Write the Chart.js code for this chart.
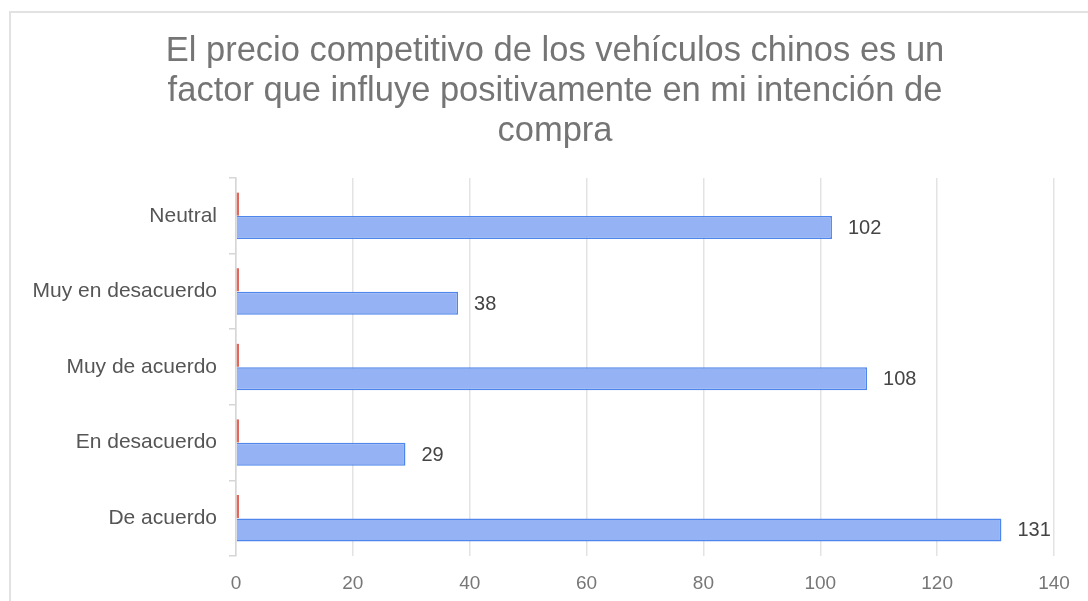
<!DOCTYPE html>
<html>
<head>
<meta charset="utf-8">
<script src="https://cdn.jsdelivr.net/npm/chart.js@4/dist/chart.umd.min.js"></script>
<style>
  html, body { margin: 0; padding: 0; background: #fff; overflow: hidden; }
  #wrap { position: relative; width: 1088px; height: 601px; }
  #frame {
    position: absolute; left: 9px; top: 11px; width: 1200px; height: 700px;
    border-top: 2px solid #e2e2e2; border-left: 2px solid #e2e2e2;
    pointer-events: none;
  }
</style>
</head>
<body>
<div id="wrap">
  <canvas id="precioChart" width="1088" height="601"></canvas>
  <div id="frame"></div>
</div>
<script>
const titleLines = [
    'El precio competitivo de los vehículos chinos es un',
    'factor que influye positivamente en mi intención de',
    'compra'
];
const categories = ['Neutral', 'Muy en desacuerdo', 'Muy de acuerdo', 'En desacuerdo', 'De acuerdo'];
const otherValues = [0, 0, 0, 0, 0];
const countValues = [102, 38, 108, 29, 131];
const xTicks = [0, 20, 40, 60, 80, 100, 120, 140];

const fontFamily = '"Liberation Sans", Arial, Helvetica, sans-serif';

// value labels to the right of the blue bars
const barValueLabels = {
    id: 'barValueLabels',
    afterDatasetsDraw(chart) {
        const ctx = chart.ctx;
        const meta = chart.getDatasetMeta(1);
        ctx.save();
        ctx.font = '20px ' + fontFamily;
        ctx.fillStyle = '#444444';
        ctx.textAlign = 'left';
        ctx.textBaseline = 'middle';
        meta.data.forEach((bar, i) => {
            ctx.fillText(String(countValues[i]), bar.x + 16, bar.y + 1);
        });
        ctx.restore();
    }
};

const ctx = document.getElementById('precioChart').getContext('2d');

new Chart(ctx, {
    type: 'bar',
    data: {
        labels: categories,
        datasets: [{
            label: 'Otro',
            data: otherValues,
            backgroundColor: '#e2685c',
            borderWidth: 0,
            minBarLength: 3,
            categoryPercentage: 0.62,
            barPercentage: 0.98
        }, {
            label: 'Respuestas',
            data: countValues,
            backgroundColor: '#95b3f4',
            borderColor: '#4f86ec',
            borderWidth: 1.5,
            categoryPercentage: 0.62,
            barPercentage: 0.98
        }]
    },
    options: {
        indexAxis: 'y',
        responsive: false,
        animation: false,
        layout: { padding: { left: 22, right: 0, top: 0, bottom: 4 } },
        plugins: {
            legend: { display: false },
            tooltip: { enabled: false },
            title: {
                display: true,
                text: titleLines,
                color: '#757575',
                font: { family: fontFamily, size: 34.5, weight: 'normal', lineHeight: 1.16 },
                padding: { top: 31, bottom: 27 }
            }
        },
        scales: {
            x: {
                min: 0,
                max: 140,
                afterBuildTicks: scale => { scale.ticks = xTicks.map(v => ({ value: v })); },
                afterFit: scale => { scale.height = 41; },
                grid: { color: '#e3e3e3', lineWidth: 1.5, drawTicks: false },
                border: { display: false },
                ticks: {
                    color: '#777777',
                    padding: 16,
                    font: { family: fontFamily, size: 19 }
                }
            },
            y: {
                afterFit: scale => { scale.width = 214; },
                grid: {
                    offset: true,
                    drawOnChartArea: false,
                    tickLength: 7,
                    color: '#d6d6d6',
                    lineWidth: 1.5
                },
                border: { display: true, color: '#d6d6d6', width: 1.5 },
                ticks: {
                    color: '#555555',
                    padding: 12,
                    font: { family: fontFamily, size: 21 }
                }
            },
            // empty margin on the right of the plot
            yRight: {
                type: 'category',
                position: 'right',
                afterFit: scale => { scale.width = 34; },
                grid: { display: false },
                border: { display: false },
                ticks: { display: false }
            }
        }
    },
    plugins: [barValueLabels]
});
</script>
</body>
</html>
